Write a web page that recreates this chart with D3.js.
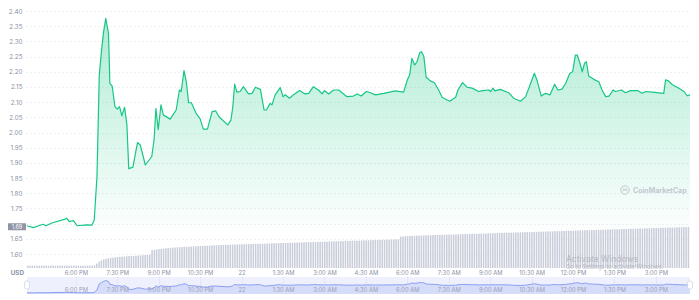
<!DOCTYPE html>
<html lang="en">
<head>
<meta charset="UTF-8">
<title>Price chart</title>
<script src="https://cdn.jsdelivr.net/npm/d3@7/dist/d3.min.js"></script>
<style>
    body { margin: 0; background: #fff; }
    svg text { font-family: Inter, "Noto Sans", sans-serif; }
</style>
</head>
<body>
<svg width="699" height="300"></svg>
<script>
// minutes after 4:14 PM (day 21) and the price in USD at that moment
var minutes = [0, 14, 25, 35, 41, 54, 83, 86, 92, 101, 109, 130, 141, 146, 152, 157, 162, 166, 171, 177,
    180, 185, 191, 196, 201, 206, 212, 217, 221, 230, 240, 246, 257, 271, 276, 280, 285, 291, 296, 311,
    317, 324, 331, 335, 341, 346, 351, 357, 367, 376, 383, 392, 402, 410, 417, 436, 443, 447, 451, 456,
    463, 470, 481, 489, 496, 507, 515, 520, 528, 532, 539, 550, 556, 561, 570, 579, 592, 604, 612, 622,
    633, 641, 646, 655, 666, 677, 695, 709, 717, 726, 737, 746, 757, 775, 800, 818, 826, 831, 836, 842,
    847, 853, 857, 862, 867, 876, 885, 894, 902, 918, 931, 936, 946, 956, 967, 981, 989, 1003, 1007, 1012,
    1016, 1028, 1046, 1057, 1072, 1083, 1094, 1102, 1108, 1117, 1126, 1136, 1146, 1153, 1162, 1170, 1179, 1185, 1191, 1195,
    1201, 1206, 1211, 1215, 1220, 1231, 1242, 1249, 1257, 1264, 1273, 1278, 1291, 1300, 1311, 1326, 1336, 1344, 1358, 1383,
    1387, 1392, 1402, 1412, 1427, 1434, 1440];
var prices = [1.693, 1.687, 1.693, 1.698, 1.693, 1.702, 1.715, 1.718, 1.707, 1.710, 1.693, 1.696, 1.695, 1.712, 1.855, 2.189, 2.272, 2.327, 2.376, 2.327,
    2.162, 2.153, 2.085, 2.077, 2.085, 2.055, 2.083, 2.025, 1.881, 1.886, 1.967, 1.959, 1.893, 1.921, 1.976, 2.079, 2.009, 2.091, 2.058, 2.044,
    2.058, 2.074, 2.140, 2.135, 2.204, 2.167, 2.098, 2.098, 2.064, 2.045, 2.011, 2.011, 2.069, 2.071, 2.052, 2.025, 2.041, 2.085, 2.159, 2.133,
    2.135, 2.151, 2.127, 2.129, 2.149, 2.142, 2.074, 2.074, 2.096, 2.091, 2.124, 2.148, 2.118, 2.124, 2.113, 2.124, 2.138, 2.127, 2.129, 2.151,
    2.140, 2.127, 2.138, 2.127, 2.140, 2.140, 2.118, 2.120, 2.127, 2.120, 2.135, 2.131, 2.124, 2.129, 2.137, 2.133, 2.173, 2.189, 2.244, 2.222,
    2.233, 2.263, 2.266, 2.250, 2.182, 2.170, 2.164, 2.140, 2.115, 2.103, 2.116, 2.140, 2.164, 2.149, 2.146, 2.135, 2.138, 2.140, 2.135, 2.146,
    2.137, 2.142, 2.131, 2.113, 2.103, 2.118, 2.162, 2.195, 2.171, 2.120, 2.129, 2.124, 2.159, 2.140, 2.143, 2.162, 2.195, 2.200, 2.255, 2.255,
    2.228, 2.200, 2.228, 2.233, 2.186, 2.175, 2.167, 2.140, 2.118, 2.120, 2.140, 2.135, 2.140, 2.131, 2.138, 2.138, 2.129, 2.135, 2.133, 2.129,
    2.173, 2.171, 2.157, 2.149, 2.135, 2.121, 2.124];

// 24h volume (M USD), one bar per 5 minutes, one row per hour
var volumes = [
    29, 29, 30, 29, 29, 29, 30, 29, 29, 29, 29, 30,
    29, 29, 29, 30, 29, 29, 29, 29, 30, 29, 29, 29,
    29, 29, 30, 29, 29, 35, 55, 78, 95, 106, 115, 122,
    126, 129, 133, 136, 139, 141, 143, 146, 148, 150, 152, 154,
    156, 158, 160, 162, 164, 166, 224, 228, 232, 236, 240, 243,
    246, 249, 252, 254, 256, 258, 260, 262, 263, 265, 266, 268,
    270, 271, 273, 275, 276, 277, 279, 280, 282, 283, 284, 286,
    287, 288, 289, 290, 291, 292, 293, 294, 295, 296, 297, 298,
    299, 300, 301, 302, 302, 303, 304, 305, 306, 307, 308, 309,
    310, 311, 312, 313, 313, 314, 315, 316, 317, 318, 319, 320,
    321, 322, 323, 323, 324, 325, 326, 327, 328, 329, 330, 331,
    332, 333, 334, 335, 335, 336, 337, 338, 339, 340, 341, 342,
    343, 344, 345, 346, 347, 348, 349, 350, 351, 351, 352, 353,
    354, 355, 356, 357, 358, 359, 392, 395, 397, 399, 400, 402,
    403, 404, 405, 406, 407, 408, 409, 410, 411, 412, 413, 414,
    415, 416, 417, 418, 418, 419, 420, 421, 422, 423, 424, 425,
    426, 427, 428, 428, 429, 430, 431, 432, 433, 434, 435, 436,
    437, 438, 439, 440, 441, 441, 442, 443, 444, 445, 446, 447,
    448, 449, 449, 450, 451, 452, 453, 454, 455, 456, 457, 458,
    459, 460, 461, 461, 462, 463, 464, 465, 466, 467, 468, 469,
    470, 471, 472, 473, 473, 474, 475, 476, 477, 478, 479, 480,
    481, 482, 482, 483, 484, 485, 486, 487, 488, 489, 490, 490,
    491, 492, 493, 494, 495, 496, 497, 498, 499, 500, 501, 502,
    503, 504, 505, 505, 506, 507, 508, 509, 510, 511, 512, 513];

var yTicks = [1.60, 1.65, 1.70, 1.75, 1.80, 1.85, 1.90, 1.95, 2.00, 2.05, 2.10, 2.15, 2.20, 2.25, 2.30, 2.35, 2.40];
var xTickTimes = ["2021-09-21T18:00", "2021-09-21T19:30", "2021-09-21T21:00", "2021-09-21T22:30", "2021-09-22T00:00",
    "2021-09-22T01:30", "2021-09-22T03:00", "2021-09-22T04:30", "2021-09-22T06:00", "2021-09-22T07:30",
    "2021-09-22T09:00", "2021-09-22T10:30", "2021-09-22T12:00", "2021-09-22T13:30", "2021-09-22T15:00"];
var xTickLabels = ["6:00 PM", "7:30 PM", "9:00 PM", "10:30 PM", "22", "1:30 AM", "3:00 AM", "4:30 AM", "6:00 AM",
    "7:30 AM", "9:00 AM", "10:30 AM", "12:00 PM", "1:30 PM", "3:00 PM"];
var openPrice = 1.69;

var start = new Date("2021-09-21T16:14");
var end = d3.timeMinute.offset(start, 1440);

var svg = d3.select("svg");
var grey = "#8a91a6";

var x = d3.scaleTime().domain([start, end]).range([27, 690]);
var y = d3.scaleLinear().domain([1.60, 2.40]).range([254, 11]);
var yVol = d3.scaleLinear().domain([0, 600]).range([268, 220]);
var yNav = d3.scaleLinear().domain([1.68, 2.38]).range([293, 280.5]);

var points = minutes.map(function (m, i) {
    return {t: d3.timeMinute.offset(start, m), p: prices[i]};
});

// gradient under the price line
var defs = svg.append("defs");
var grad = defs.append("linearGradient")
    .attr("id", "fillGrad")
    .attr("gradientUnits", "userSpaceOnUse")
    .attr("x1", 0).attr("x2", 0)
    .attr("y1", y(2.40)).attr("y2", y(1.66));
grad.append("stop").attr("offset", 0).attr("stop-color", "#16c784").attr("stop-opacity", 0.36);
grad.append("stop").attr("offset", 0.55).attr("stop-color", "#16c784").attr("stop-opacity", 0.16);
grad.append("stop").attr("offset", 1).attr("stop-color", "#16c784").attr("stop-opacity", 0);

// grid
svg.append("g").selectAll("line")
    .data(yTicks)
    .enter().append("line")
    .attr("x1", 26).attr("x2", 690)
    .attr("y1", function (d) { return Math.round(y(d)) + 0.5; })
    .attr("y2", function (d) { return Math.round(y(d)) + 0.5; })
    .attr("stroke", "#eef0f4")
    .attr("stroke-dasharray", "2,2");

// area + line
svg.append("path")
    .datum(points)
    .attr("fill", "url(#fillGrad)")
    .attr("d", d3.area()
        .x(function (d) { return x(d.t); })
        .y0(y(1.60))
        .y1(function (d) { return y(d.p); }));

svg.append("path")
    .datum(points)
    .attr("fill", "none")
    .attr("stroke", "#16c784")
    .attr("stroke-width", 1.2)
    .attr("stroke-linejoin", "round")
    .attr("d", d3.line()
        .x(function (d) { return x(d.t); })
        .y(function (d) { return y(d.p); }));

// volume bars
svg.append("g").selectAll("rect")
    .data(volumes)
    .enter().append("rect")
    .attr("x", function (d, i) { return x(d3.timeMinute.offset(start, i * 5)); })
    .attr("width", 1.5)
    .attr("y", function (d) { return yVol(d); })
    .attr("height", function (d) { return yVol(0) - yVol(d); })
    .attr("fill", "#c9cdd9");

// y axis (the label under the opening price box is hidden, as on the site)
var yAxis = svg.append("g")
    .attr("transform", "translate(22.5,0)")
    .call(d3.axisLeft(y).tickValues(yTicks).tickSize(0).tickPadding(0)
        .tickFormat(function (d) { return Math.abs(d - openPrice) < 0.02 ? "" : d3.format(".2f")(d); }));
yAxis.select(".domain").remove();
yAxis.selectAll("text").attr("fill", grey).attr("font-size", "6.3px");

// opening price label
svg.append("rect")
    .attr("x", 8).attr("y", y(openPrice) - 3.5)
    .attr("width", 18).attr("height", 7)
    .attr("rx", 0.5)
    .attr("fill", "#8f95a6");
svg.append("text")
    .attr("x", 17).attr("y", y(openPrice) + 2)
    .attr("text-anchor", "middle")
    .attr("font-size", "5.5px")
    .attr("fill", "#fff")
    .text("1.69");

// x axis
var tickDates = xTickTimes.map(function (s) { return new Date(s); });
var xAxis = svg.append("g")
    .attr("transform", "translate(0,268)")
    .call(d3.axisBottom(x).tickValues(tickDates).tickSize(0).tickPadding(3)
        .tickFormat(function (d, i) { return xTickLabels[i]; }));
xAxis.select(".domain").remove();
xAxis.selectAll("text").attr("fill", grey).attr("font-size", "5.8px");

svg.append("text")
    .attr("x", 24).attr("y", 275)
    .attr("text-anchor", "end")
    .attr("font-size", "6.3px")
    .attr("font-weight", "bold")
    .attr("fill", grey)
    .text("USD");

// navigator
svg.append("rect")
    .attr("x", 27).attr("y", 277)
    .attr("width", 663).attr("height", 17)
    .attr("fill", "#eef1fd");

svg.append("g").selectAll("line")
    .data(tickDates)
    .enter().append("line")
    .attr("x1", function (d) { return Math.round(x(d)) + 0.5; })
    .attr("x2", function (d) { return Math.round(x(d)) + 0.5; })
    .attr("y1", 277).attr("y2", 287)
    .attr("stroke", "#cfd6f3")
    .attr("stroke-dasharray", "1,1.5");

svg.append("path")
    .datum(points)
    .attr("fill", "#d6ddfa")
    .attr("d", d3.area()
        .x(function (d) { return x(d.t); })
        .y0(294)
        .y1(function (d) { return yNav(d.p); }));

svg.append("path")
    .datum(points)
    .attr("fill", "none")
    .attr("stroke", "#8d9ef0")
    .attr("stroke-width", 1)
    .attr("d", d3.line()
        .x(function (d) { return x(d.t); })
        .y(function (d) { return yNav(d.p); }));

var navAxis = svg.append("g")
    .attr("transform", "translate(0,286)")
    .call(d3.axisBottom(x).tickValues(tickDates).tickSize(0).tickPadding(2)
        .tickFormat(function (d, i) { return xTickLabels[i]; }));
navAxis.select(".domain").remove();
navAxis.selectAll("text").attr("fill", "#9aa0b4").attr("font-size", "5.8px");

svg.selectAll(".handle")
    .data([start, end])
    .enter().append("rect")
    .attr("class", "handle")
    .attr("x", function (d) { return x(d) - 2.5; })
    .attr("y", 281)
    .attr("width", 5).attr("height", 8)
    .attr("rx", 2)
    .attr("fill", "#fff")
    .attr("stroke", "#c3c9d8")
    .attr("stroke-width", 0.6);

// watermark
var wm = svg.append("g").attr("transform", "translate(625,190)");
wm.append("circle").attr("r", 4.2).attr("fill", "none").attr("stroke", "#c3c8d2").attr("stroke-width", 1);
wm.append("path").attr("d", "M-2.2,1.5 L-1.2,-1.5 L0,0.8 L1.2,-1.5 L2.2,1.5")
    .attr("fill", "none").attr("stroke", "#c3c8d2").attr("stroke-width", 0.8);
wm.append("text")
    .attr("x", 8).attr("y", 2.5)
    .attr("font-size", "7px")
    .attr("font-weight", "bold")
    .attr("fill", "#c3c8d2")
    .text("CoinMarketCap");

svg.append("text")
    .attr("x", 566).attr("y", 262)
    .attr("font-size", "8.5px")
    .attr("fill", "#a9adb6")
    .attr("fill-opacity", 0.8)
    .text("Activate Windows");
svg.append("text")
    .attr("x", 566).attr("y", 268.5)
    .attr("font-size", "5.8px")
    .attr("fill", "#a9adb6")
    .attr("fill-opacity", 0.8)
    .text("Go to Settings to activate Windows.");
</script>
</body>
</html>
